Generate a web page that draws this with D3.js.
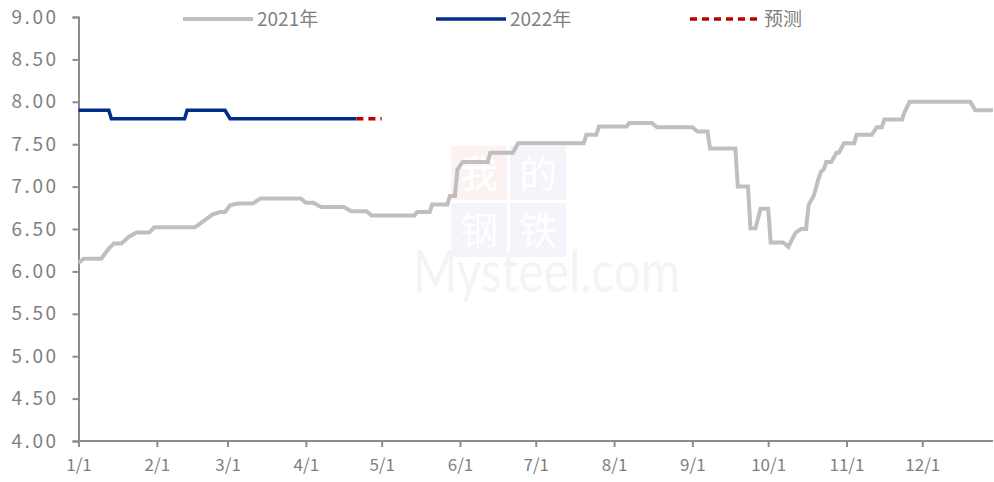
<!DOCTYPE html>
<meta charset="utf-8">
<style>
body { margin: 0; background: #fff; }
svg text { font-family: "Noto Sans CJK SC", "Noto Sans", sans-serif; fill: #7f7f7f; }
</style>
<svg id="chart" width="994" height="482"></svg>
<script src="https://cdn.jsdelivr.net/npm/d3@7"></script>
<script>
// data: turning points of the daily price lines (month-day)
var dates2021 = ["01-01","01-03","01-10","01-13","01-15","01-18","01-21","01-24","01-29","01-31",
  "02-16","02-18","02-23","02-26","02-28","03-02","03-05","03-11","03-14","03-30",
  "04-01","04-04","04-07","04-16","04-19","04-25","04-27","05-14","05-15","05-20",
  "05-21","05-27","05-28","05-30","05-31","06-02","06-12","06-13","06-22","06-24",
  "07-20","07-21","07-25","07-26","08-06","08-07","08-16","08-18","09-01","09-03",
  "09-07","09-08","09-18","09-19","09-23","09-24","09-26","09-28","10-01","10-02",
  "10-07","10-09","10-11","10-12","10-14","10-16","10-17","10-18","10-19","10-21",
  "10-22","10-23","10-24","10-26","10-28","10-29","10-31","11-04","11-05","11-11",
  "11-13","11-15","11-16","11-23","11-24","11-26","12-20","12-22","12-29"];
var values2021 = [6.10,6.15,6.15,6.27,6.33,6.33,6.41,6.46,6.46,6.52,
  6.52,6.56,6.67,6.70,6.70,6.78,6.80,6.80,6.86,6.86,
  6.81,6.81,6.76,6.76,6.71,6.71,6.66,6.66,6.70,6.70,
  6.79,6.79,6.89,6.89,7.20,7.29,7.29,7.40,7.40,7.51,
  7.51,7.61,7.61,7.71,7.71,7.75,7.75,7.70,7.70,7.65,
  7.65,7.45,7.45,7.00,7.00,6.51,6.51,6.74,6.74,6.34,
  6.34,6.29,6.41,6.46,6.50,6.50,6.78,6.84,6.89,7.10,
  7.18,7.20,7.29,7.29,7.40,7.40,7.51,7.51,7.61,7.61,
  7.70,7.70,7.79,7.79,7.88,8.00,8.00,7.90,7.90];

var dates2022 = ["01-01","01-13","01-14","02-12","02-13","02-28","03-02","04-21"];
var values2022 = [7.90,7.90,7.80,7.80,7.90,7.90,7.80,7.80];

var datesForecast = ["04-21","05-01"];
var valuesForecast = [7.80,7.80];

var monthTicks = ["01-01","02-01","03-01","04-01","05-01","06-01","07-01","08-01","09-01","10-01","11-01","12-01"];
var yTicks = [4.0,4.5,5.0,5.5,6.0,6.5,7.0,7.5,8.0,8.5,9.0];

var legendNames = ["2021年","2022年","预测"];

var svg = d3.select("#chart");
var parse = d3.timeParse("%m-%d");

var x = d3.scaleTime()
    .domain([parse("01-01"), parse("12-29")])
    .range([78.5, 993]);
var y = d3.scaleLinear()
    .domain([4, 9])
    .range([441, 17]);

function zip(ds, vs) { return ds.map(function(d, i) { return {date: parse(d), value: vs[i]}; }); }

// faint watermark
var wm = svg.append("g").attr("opacity", 0.45);
[["#fbe3e3",451,146],["#e6eaf4",510,146],["#e6eaf4",451,203],["#e6eaf4",510,203]].forEach(function(s) {
  wm.append("rect").attr("x", s[1]).attr("y", s[2]).attr("width", 56).attr("height", 54).attr("fill", s[0]);
});
wm.selectAll("text.cn").data(["我","的","钢","铁"]).enter().append("text")
    .attr("x", function(d, i) { return 479 + (i % 2) * 59; })
    .attr("y", function(d, i) { return 187 + Math.floor(i / 2) * 57; })
    .attr("text-anchor", "middle")
    .style("font-size", "38px")
    .style("fill", "#ffffff")
    .text(function(d) { return d; });
wm.append("text")
    .attr("x", 413).attr("y", 292)
    .attr("textLength", 267).attr("lengthAdjust", "spacingAndGlyphs")
    .style("font-size", "58px")
    .style("fill", "#e8e8e8")
    .style("font-family", "Lato, sans-serif")
    .text("Mysteel.com");

// axes
var yAxis = svg.append("g")
    .attr("transform", "translate(78.5,0)")
    .call(d3.axisLeft(y).tickValues(yTicks).tickSize(6).tickPadding(14).tickFormat(d3.format(".2f")));
var xAxis = svg.append("g")
    .attr("transform", "translate(0,441)")
    .call(d3.axisBottom(x).tickValues(monthTicks.map(parse)).tickSize(6).tickPadding(12)
      .tickFormat(d3.timeFormat("%-m/%-d")));
xAxis.select(".domain").attr("d", "M78.5,0H993");

[xAxis, yAxis].forEach(function(a) {
  a.selectAll("path, line").attr("stroke", "#8c8c8c").attr("stroke-width", 2);
  a.selectAll("text").style("fill", "#7f7f7f");
});
yAxis.selectAll("text").style("font-size", "19px").style("letter-spacing", "2.5px");
xAxis.selectAll("text").style("font-size", "17px");

var line = d3.line()
    .x(function(d) { return x(d.date); })
    .y(function(d) { return y(d.value); });

svg.append("path")
    .datum(zip(dates2021, values2021))
    .attr("fill", "none").attr("stroke", "#bfbfbf").attr("stroke-width", 4)
    .attr("d", line);

svg.append("path")
    .datum(zip(dates2022, values2022))
    .attr("fill", "none").attr("stroke", "#002c8a").attr("stroke-width", 3.5)
    .attr("d", line);

svg.append("path")
    .datum(zip(datesForecast, valuesForecast))
    .attr("fill", "none").attr("stroke", "#c00000").attr("stroke-width", 3.5)
    .attr("stroke-dasharray", "7,5")
    .attr("d", line);

// legend
var legendStyle = [
  {x: 183, color: "#bfbfbf", dash: null, w: 4},
  {x: 436, color: "#002c8a", dash: null, w: 3.5},
  {x: 690, color: "#c00000", dash: "7,5", w: 3.5}
];
var legend = svg.append("g").selectAll("g")
    .data(legendNames)
    .enter().append("g")
      .attr("transform", function(d, i) { return "translate(" + legendStyle[i].x + ",19)"; });
legend.append("line")
    .attr("x1", 0).attr("x2", 70)
    .attr("stroke", function(d, i) { return legendStyle[i].color; })
    .attr("stroke-width", function(d, i) { return legendStyle[i].w; })
    .attr("stroke-dasharray", function(d, i) { return legendStyle[i].dash; });
legend.append("text")
    .attr("x", 74).attr("y", 7)
    .style("font-size", "19px")
    .text(function(d) { return d; });
</script>
